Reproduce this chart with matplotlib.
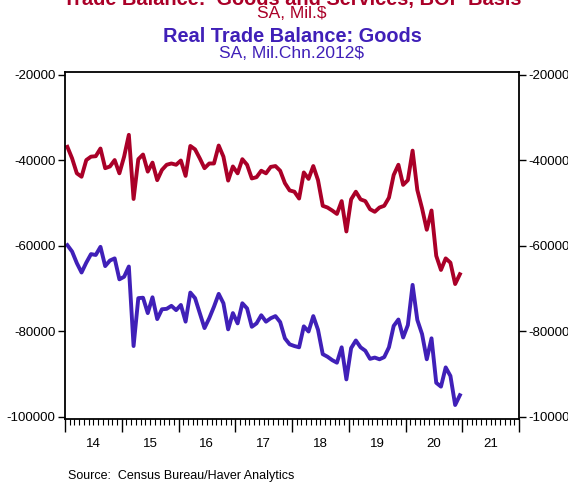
import matplotlib.pyplot as plt
import numpy as np
from matplotlib.ticker import FuncFormatter, NullFormatter

plt.rcParams['font.family'] = ['Liberation Sans', 'DejaVu Sans']

# monthly data, Jan 2014 - Dec 2020 (Mil.$ / Mil.Chn.2012$)
trade_balance = [
    -36800, -39500, -43000, -43800, -39900, -39100, -39000, -37200, -41800, -41400, -39900, -43000,
    -39100, -34000, -49000, -39700, -38600, -42600, -40500, -44600, -42200, -41000, -40700, -41000,
    -40000, -43600, -36600, -37400, -39500, -41800, -40700, -40700, -36500, -39100, -44700, -41400,
    -43000, -39700, -41000, -44200, -43900, -42400, -43000, -41500, -41300, -42400, -45300, -47000,
    -47300, -48900, -42800, -44300, -41300, -44600, -50600, -51000, -51700, -52500, -49500, -56600,
    -49100, -47300, -49100, -49500, -51400, -52000, -51000, -50600, -48700, -43400, -41000, -45700,
    -44600, -37700, -46900, -51200, -56200, -51700, -62300, -65600, -62900, -63900, -68900, -66600,
]
real_goods = [
    -59800, -61300, -64000, -66200, -63900, -61900, -62100, -60200, -64700, -63400, -62900, -67800,
    -67200, -64800, -83400, -72200, -72100, -75700, -72000, -77100, -74800, -74700, -74000, -75000,
    -73800, -77700, -70900, -72200, -75700, -79200, -76900, -74200, -71200, -73400, -79500, -75700,
    -78100, -73400, -74600, -78900, -78100, -76200, -77700, -76900, -76400, -77800, -81600, -83000,
    -83400, -83700, -78800, -80000, -76400, -79600, -85300, -85900, -86700, -87300, -83700, -91200,
    -83900, -82100, -83700, -84500, -86400, -86100, -86500, -86000, -83700, -78700, -77200, -81400,
    -78500, -69100, -77300, -80600, -86500, -81600, -92000, -92900, -88400, -90400, -97200, -94900,
]
years = [2014, 2015, 2016, 2017, 2018, 2019, 2020, 2021]
year_labels = ['14', '15', '16', '17', '18', '19', '20', '21']

red = '#AA0028'
blue = '#4020B8'

# mid-month positions
t = 2014 + (np.arange(len(trade_balance)) + 0.5) / 12

fig = plt.figure(figsize=(5.68, 4.82), dpi=100)
ax = fig.add_axes([65 / 568, 1 - 419 / 482, 454 / 568, 347 / 482])

ax.plot(t, trade_balance, color=red, lw=2.8, solid_joinstyle='round')
ax.plot(t, real_goods, color=blue, lw=2.8, solid_joinstyle='round')

ax.set_xlim(2014, 2022)
ax.set_ylim(-100470, -19300)

ax.set_yticks(np.arange(-100000, -19999, 20000))
ax.yaxis.set_major_formatter(FuncFormatter(lambda v, p: f"{int(v)}"))
ax.tick_params(axis='y', which='major', direction='out', length=5, width=1,
               left=True, right=True, labelleft=True, labelright=True,
               labelsize=9.5, pad=2)

ax.set_xticks(np.arange(2014, 2023))
ax.set_xticks(2014 + np.arange(0, 97) / 12, minor=True)
ax.xaxis.set_major_formatter(NullFormatter())
ax.tick_params(axis='x', which='major', direction='out', length=9, width=1)
ax.tick_params(axis='x', which='minor', direction='out', length=4.5, width=0.8)

# year labels centred between the year ticks
sec = ax.secondary_xaxis('bottom')
sec.set_xticks([y + 0.5 for y in years], labels=year_labels)
sec.tick_params(length=0, pad=14, labelsize=9.5)
sec.spines['bottom'].set_visible(False)

for s in ax.spines.values():
    s.set_linewidth(1.3)

# titles
fig.text(0.514, 1 - 5 / 482, 'Trade Balance:  Goods and Services, BOP Basis',
         color=red, fontsize=14.4, weight='bold', ha='center', va='baseline')
fig.text(0.514, 1 - 14 / 482, 'SA, Mil.$', color=red, fontsize=12.5,
         ha='center', va='center')
fig.text(0.514, 1 - 37 / 482, 'Real Trade Balance: Goods', color=blue,
         fontsize=14.4, weight='bold', ha='center', va='center')
fig.text(0.514, 1 - 53 / 482, 'SA, Mil.Chn.2012$', color=blue, fontsize=12.5,
         ha='center', va='center')

fig.text(68 / 568, 1 - 476 / 482, 'Source:  Census Bureau/Haver Analytics',
         fontsize=9, ha='left', va='center')

fig.savefig('out.png', dpi=100)
